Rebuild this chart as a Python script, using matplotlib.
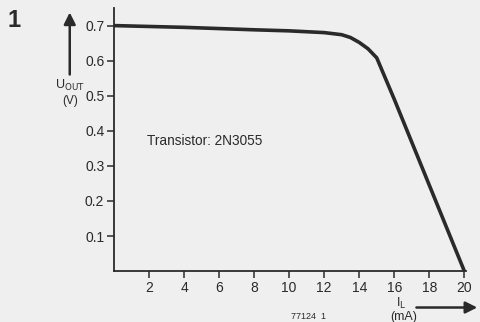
import matplotlib
matplotlib.use("Agg")
import matplotlib.pyplot as plt

plt.rcParams['font.family'] = ['Liberation Sans', 'DejaVu Sans']

# Output voltage vs load current
i_load = [0, 4, 8, 10, 12, 13, 13.5, 14, 14.5, 15, 16, 18, 20]
u_out = [0.70, 0.695, 0.688, 0.685, 0.68, 0.674, 0.666, 0.652, 0.634, 0.608, 0.49, 0.245, 0.0]

x_ticks = [2, 4, 6, 8, 10, 12, 14, 16, 18, 20]
y_ticks = [0.1, 0.2, 0.3, 0.4, 0.5, 0.6, 0.7]
y_labels = ["0.1", "0.2", "0.3", "0.4", "0.5", "0.6", "0.7"]

bg = '#efefef'
ink = '#2a2a2a'

fig = plt.figure(figsize=(4.81, 3.22), dpi=100, facecolor=bg)
ax = fig.add_axes([0.237, 0.158, 0.732, 0.817])
ax.set_facecolor(bg)

ax.plot(i_load, u_out, color=ink, lw=2.6, solid_capstyle='butt', solid_joinstyle='round')

ax.set_xlim(0, 20.1)
ax.set_ylim(0, 0.75)
ax.set_xticks(x_ticks)
ax.set_yticks(y_ticks)
ax.set_yticklabels(y_labels)
for s in ['top', 'right']:
    ax.spines[s].set_visible(False)
for s in ['left', 'bottom']:
    ax.spines[s].set_color(ink)
    ax.spines[s].set_linewidth(1.3)
ax.tick_params(colors=ink, labelsize=10, length=5, width=1.1, pad=2)

ax.text(1.9, 0.36, "Transistor: 2N3055", fontsize=9.8, color=ink)

# figure number and axis name arrows
fig.text(0.015, 0.915, "1", fontsize=17, fontweight='bold', color=ink)
fig.add_artist(matplotlib.patches.FancyArrowPatch(
    (0.145, 0.76), (0.145, 0.97), transform=fig.transFigure,
    arrowstyle='-|>,head_length=7,head_width=3.5', color=ink, lw=1.8))
fig.text(0.145, 0.735, r"U$_{\mathrm{OUT}}$", fontsize=9, color=ink, ha='center', va='center')
fig.text(0.145, 0.685, "(V)", fontsize=8.5, color=ink, ha='center', va='center')

fig.add_artist(matplotlib.patches.FancyArrowPatch(
    (0.86, 0.045), (0.998, 0.045), transform=fig.transFigure,
    arrowstyle='-|>,head_length=7,head_width=3.5', color=ink, lw=1.8))
fig.text(0.835, 0.058, r"I$_{\mathrm{L}}$", fontsize=9, color=ink, ha='center', va='center')
fig.text(0.84, 0.016, "(mA)", fontsize=9, color=ink, ha='center', va='center')
fig.text(0.605, 0.01, "77124  1", fontsize=6.5, color=ink)

fig.savefig("out.png", dpi=100, facecolor=bg)
